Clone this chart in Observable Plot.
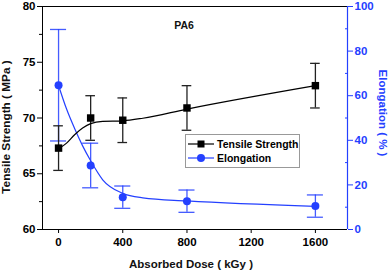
<!DOCTYPE html>
<html><head><meta charset="utf-8">
<script src="https://cdn.jsdelivr.net/npm/d3@7"></script>
<script src="https://cdn.jsdelivr.net/npm/@observablehq/plot@0.6"></script>
<style>
body{margin:0;background:#fff;}
#wrap{position:relative;width:390px;height:274px;font-family:"Liberation Sans",Arial,sans-serif;}
#legend{position:absolute;left:185px;top:134px;width:113px;height:32px;border:1px solid #999;background:#fff;font-weight:bold;font-size:10.5px;}
#legend div{position:absolute;left:2px;display:flex;align-items:center;height:14px;}
#legend svg{margin-right:2px;}
</style></head>
<body><div id="wrap"></div>
<script>
const doses = [0, 200, 400, 800, 1600];
const tensile = [67.3, 70.0, 69.8, 70.9, 72.9];
const tensileErr = [2, 2, 2, 2, 2];
const elongation = [64.7, 28.7, 14.5, 12.7, 10.5];
const elongationErr = [25, 10, 5, 5, 5];
const fitDoses = [0, 50, 100, 150, 200, 275, 400, 525, 800, 1600];
const tensileFit = [67.25, 67.75, 68.5, 69.1, 69.5, 69.7, 69.75, 69.98, 70.8, 72.9];
const elongationFit = [64.6, 54.0, 45.3, 37.5, 30.8, 22.3, 16.2, 14.2, 12.8, 10.4];
const xTicks = [0, 400, 800, 1200, 1600];
const leftTicks = [60, 65, 70, 75, 80];
const leftMinor = [62.5, 67.5, 72.5, 77.5];
const rightTicks = [0, 20, 40, 60, 80, 100];
const rightMinor = [10, 30, 50, 70, 90];
const xDomain = [-100, 1800];
const yDomain = [60, 80];
const eDomain = [0, 100];

const blue = "#2440ff";
const toY = e => yDomain[0] + (e - eDomain[0]) * (yDomain[1] - yDomain[0]) / (eDomain[1] - eDomain[0]);
const fromY = y => eDomain[0] + (y - yDomain[0]) * (eDomain[1] - eDomain[0]) / (yDomain[1] - yDomain[0]);

const ts = doses.map((d, i) => ({x: d, y: tensile[i], lo: tensile[i] - tensileErr[i], hi: tensile[i] + tensileErr[i]}));
const el = doses.map((d, i) => ({x: d, y: toY(elongation[i]), lo: toY(elongation[i] - elongationErr[i]), hi: toY(elongation[i] + elongationErr[i])}));
const tsFit = fitDoses.map((d, i) => ({x: d, y: tensileFit[i]}));
const elFit = fitDoses.map((d, i) => ({x: d, y: toY(elongationFit[i])}));

const capT = 30, capE = 50;
const font = {fontSize: 11.5, fontWeight: "bold"};

const chart = Plot.plot({
  width: 390, height: 274,
  marginLeft: 42, marginRight: 43, marginTop: 6, marginBottom: 45,
  style: {fontFamily: "Liberation Sans, Arial, sans-serif", background: "#fff"},
  x: {domain: xDomain},
  y: {domain: yDomain},
  marks: [
    Plot.axisX({ticks: xTicks, tickFormat: d => String(d), tickSize: 4, tickPadding: 4, label: null, ...font}),
    Plot.axisY({ticks: leftTicks, tickSize: 5, tickPadding: 2, label: null, ...font}),
    Plot.axisY({ticks: leftMinor, tickSize: 3, tickFormat: () => "", label: null}),
    Plot.axisY({anchor: "right", ticks: rightTicks.map(toY), tickFormat: d => Math.round(fromY(d)), tickSize: 5, tickPadding: 2, label: null, color: blue, stroke: blue, fill: blue, ...font}),
    Plot.axisY({anchor: "right", ticks: rightMinor.map(toY), tickFormat: () => "", tickSize: -3, label: null, stroke: blue}),
    Plot.ruleY([yDomain[1]], {stroke: "black"}),
    Plot.ruleY([yDomain[0]], {stroke: "black"}),
    Plot.ruleX([xDomain[0]], {stroke: "black"}),
    Plot.ruleX([xDomain[1]], {stroke: blue, strokeWidth: 1.2}),
    // elongation
    Plot.ruleX(el, {x: "x", y1: "lo", y2: "hi", stroke: blue, strokeOpacity: 0.85, strokeWidth: 1.3}),
    Plot.ruleY(el, {y: "lo", x1: d => d.x - capE, x2: d => d.x + capE, stroke: blue, strokeOpacity: 0.85, strokeWidth: 1.3}),
    Plot.ruleY(el, {y: "hi", x1: d => d.x - capE, x2: d => d.x + capE, stroke: blue, strokeOpacity: 0.85, strokeWidth: 1.3}),
    Plot.line(elFit, {x: "x", y: "y", stroke: blue, strokeWidth: 1.2, curve: "monotone-x"}),
    Plot.dot(el, {x: "x", y: "y", r: 4, fill: blue, stroke: "none"}),
    // tensile
    Plot.ruleX(ts, {x: "x", y1: "lo", y2: "hi", stroke: "#222", strokeWidth: 1.3}),
    Plot.ruleY(ts, {y: "lo", x1: d => d.x - capT, x2: d => d.x + capT, stroke: "#222", strokeWidth: 1.3}),
    Plot.ruleY(ts, {y: "hi", x1: d => d.x - capT, x2: d => d.x + capT, stroke: "#222", strokeWidth: 1.3}),
    Plot.line(tsFit, {x: "x", y: "y", stroke: "black", strokeWidth: 1.2, curve: "monotone-x"}),
    Plot.dot(ts, {x: "x", y: "y", symbol: "square", r: 4.2, fill: "black", stroke: "none"}),
    // texts
    Plot.text(["PA6"], {frameAnchor: "top", dx: -11, dy: 15, fontSize: 10.5, fontWeight: "bold", fill: "#111"}),
    Plot.text(["Tensile Strength ( MPa )"], {frameAnchor: "left", textAnchor: "middle", dx: -36, dy: 9, rotate: -90, fontSize: 11.8, fontWeight: "bold", fill: "#111"}),
    Plot.text(["Elongation ( % )"], {frameAnchor: "right", textAnchor: "middle", dx: 35, dy: -5, rotate: 90, fontSize: 11.5, fontWeight: "bold", fill: blue}),
    Plot.text(["Absorbed Dose ( kGy )"], {frameAnchor: "bottom", dx: -4, dy: 38, fontSize: 11.5, fontWeight: "bold", fill: "#111"})
  ]
});
const wrap = document.getElementById("wrap");
wrap.appendChild(chart);

const legendItems = [
  {label: "Tensile Strength", color: "black", symbol: "square"},
  {label: "Elongation", color: blue, symbol: "circle"}
];
const leg = document.createElement("div");
leg.id = "legend";
legendItems.forEach((it, i) => {
  const row = document.createElement("div");
  row.style.top = (2 + i * 14) + "px";
  const mk = it.symbol === "square"
    ? `<rect x="9.5" y="3.5" width="7" height="7" fill="${it.color}"/>`
    : `<circle cx="13" cy="7" r="4" fill="${it.color}"/>`;
  row.innerHTML = `<svg width="27" height="14"><line x1="0" x2="26" y1="7" y2="7" stroke="${it.color}" stroke-width="1.2"/>${mk}</svg><span>${it.label}</span>`;
  leg.appendChild(row);
});
wrap.appendChild(leg);
</script></body></html>
